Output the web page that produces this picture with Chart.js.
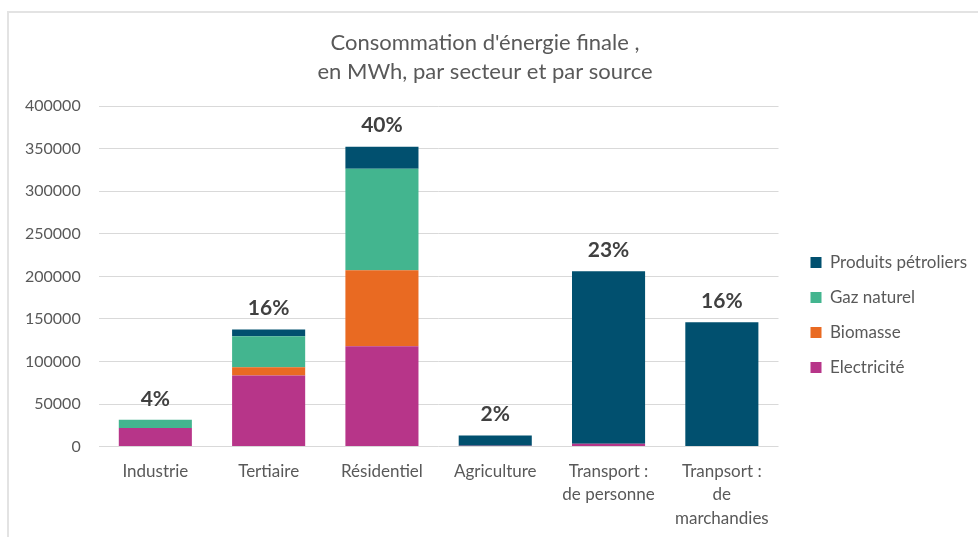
<!DOCTYPE html>
<html lang="fr">
<head>
    <meta charset="UTF-8">
    <title>Consommation d'énergie finale</title>
    <style>
        body { margin: 0; background: #fff; }
        .cadre { position: absolute; left: 7px; top: 11px; width: 1000px; height: 600px; border-left: 2px solid #e3e3e3; border-top: 2px solid #e3e3e3; }
        #graphique { position: absolute; left: 0; top: 0; }
    </style>
    <script src="https://cdn.jsdelivr.net/npm/chart.js"></script>
</head>
<body>
    <div class="cadre"></div>
    <canvas id="graphique" width="978" height="537"></canvas>

    <script>
        // Données (MWh)
        const secteurs = ['Industrie', 'Tertiaire', 'Résidentiel', 'Agriculture', ['Transport :', 'de personne'], ['Tranpsort :', 'de', 'marchandies']];
        const electricite = [22000, 83600, 117800, 1000, 3500, 0];
        const biomasse = [0, 9500, 89500, 0, 0, 0];
        const gazNaturel = [9500, 36500, 119000, 0, 0, 0];
        const produitsPetroliers = [0, 8000, 26000, 12000, 202500, 146000];
        const parts = ['4%', '16%', '40%', '2%', '23%', '16%'];
        const ticksY = [0, 50000, 100000, 150000, 200000, 250000, 300000, 350000, 400000];

        const police = 'Lato, "Open Sans", sans-serif';
        const gris = '#595959';

        // Pourcentages au-dessus des barres
        const pluginParts = {
            id: 'parts',
            afterDatasetsDraw(chart) {
                const ctx = chart.ctx;
                const x = chart.scales.x, y = chart.scales.y;
                ctx.save();
                ctx.font = 'bold 21px ' + police;
                ctx.fillStyle = '#404040';
                ctx.textAlign = 'center';
                ctx.textBaseline = 'middle';
                parts.forEach((p, i) => {
                    const total = electricite[i] + biomasse[i] + gazNaturel[i] + produitsPetroliers[i];
                    ctx.fillText(p, x.getPixelForValue(i), y.getPixelForValue(total) - 21);
                });
                ctx.restore();
            }
        };

        // Décalage de la légende
        const pluginLegende = {
            id: 'decalageLegende',
            afterLayout(chart) {
                const l = chart.legend;
                l.left += 14; l.right += 14;
                l.top += 42; l.bottom += 42;
            }
        };

        new Chart(document.getElementById('graphique'), {
            type: 'bar',
            data: {
                labels: secteurs,
                datasets: [
                    { label: 'Electricité', data: electricite, backgroundColor: '#B73589' },
                    { label: 'Biomasse', data: biomasse, backgroundColor: '#E96A22' },
                    { label: 'Gaz naturel', data: gazNaturel, backgroundColor: '#43B58F' },
                    { label: 'Produits pétroliers', data: produitsPetroliers, backgroundColor: '#01506F' }
                ]
            },
            options: {
                responsive: false,
                animation: false,
                layout: { padding: { left: 7, right: 15, top: 11, bottom: 2 } },
                datasets: { bar: { categoryPercentage: 1, barPercentage: 0.645 } },
                plugins: {
                    title: {
                        display: true,
                        text: ["Consommation d'énergie finale ,", 'en MWh, par secteur et par source'],
                        color: gris,
                        font: { family: police, size: 22, weight: 'normal', lineHeight: 1.32 },
                        padding: { top: 17, bottom: 20 }
                    },
                    legend: {
                        position: 'right',
                        reverse: true,
                        labels: {
                            boxWidth: 11, boxHeight: 11, padding: 18,
                            color: gris,
                            font: { family: police, size: 17 }
                        }
                    },
                    tooltip: { enabled: false }
                },
                scales: {
                    x: {
                        stacked: true,
                        grid: { display: false },
                        border: { display: false },
                        ticks: { color: gris, padding: 5, maxRotation: 0, font: { family: police, size: 17, lineHeight: 1.38 } }
                    },
                    y: {
                        stacked: true,
                        min: 0, max: 400000,
                        afterBuildTicks: axis => { axis.ticks = ticksY.map(v => ({ value: v })); },
                        grid: { color: '#d9d9d9', drawTicks: false },
                        border: { display: false },
                        ticks: { color: gris, padding: 18, font: { family: police, size: 16 }, callback: v => String(v) }
                    }
                }
            },
            plugins: [pluginParts, pluginLegende]
        });
    </script>
</body>
</html>
